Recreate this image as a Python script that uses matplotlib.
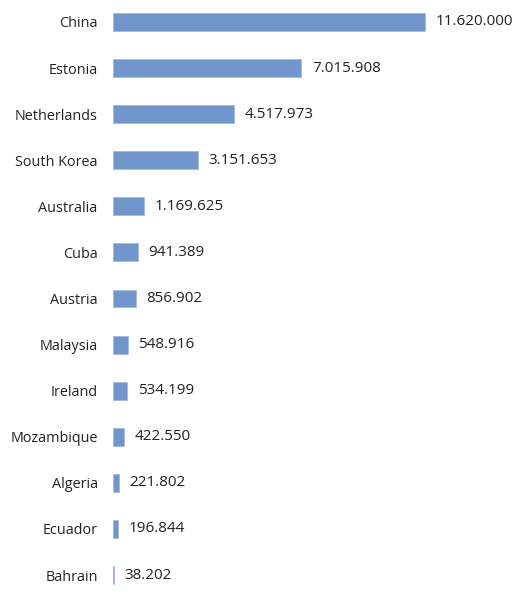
import matplotlib.pyplot as plt

countries = ['China', 'Estonia', 'Netherlands', 'South Korea', 'Australia', 'Cuba',
             'Austria', 'Malaysia', 'Ireland', 'Mozambique', 'Algeria', 'Ecuador', 'Bahrain']
values = [11620000, 7015908, 4517973, 3151653, 1169625, 941389,
          856902, 548916, 534199, 422550, 221802, 196844, 38202]

plt.rcParams['font.family'] = ['Open Sans', 'DejaVu Sans']

fig = plt.figure(figsize=(5.31, 5.99), dpi=100)
ax = fig.add_axes([0.2128, 0, 0.7759, 1])

ypos = list(range(len(countries)))
ax.barh(ypos, values, height=0.39, color='#7196cb', edgecolor='#9fb7dd', linewidth=0.5)

for y, v in zip(ypos, values):
    label = f'{v:,}'.replace(',', '.')
    ax.annotate(label, (v, y), xytext=(7.5, 0), textcoords='offset points',
                va='center', ha='left', fontsize=11, color='#222222')

ax.set_yticks(ypos)
ax.set_yticklabels(countries, fontsize=10.4, color='#222222')
ax.tick_params(axis='y', length=0, pad=11)
ax.set_xticks([])
ax.set_xlim(0, 15340000)
ax.set_ylim(12.52, -0.477)
for s in ax.spines.values():
    s.set_visible(False)

fig.savefig('out.png', dpi=100)
